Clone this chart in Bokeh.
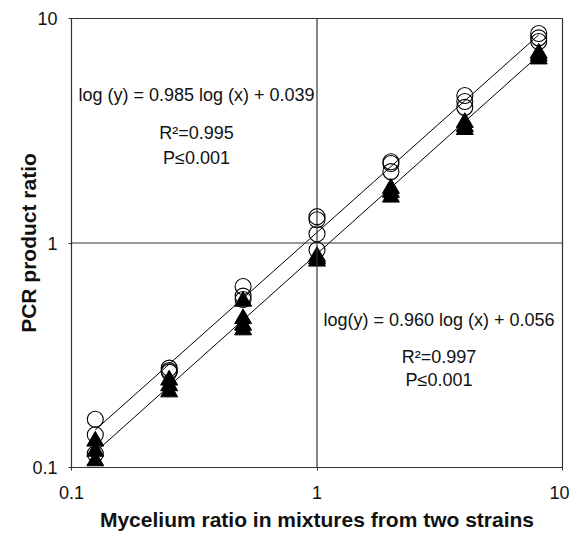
from bokeh.plotting import figure
from bokeh.models import Span, Label, FixedTicker, Range1d
from bokeh.embed import file_html
from bokeh.resources import INLINE

# ---- data ----
circle_x = [0.125, 0.125, 0.125, 0.25, 0.25, 0.25, 0.5, 0.5, 0.5,
            1, 1, 1, 1, 2, 2, 2, 4, 4, 4, 8, 8, 8]
circle_y = [0.164, 0.140, 0.115, 0.277, 0.270, 0.266, 0.64, 0.58, 0.56,
            1.31, 1.27, 1.10, 0.93, 2.30, 2.26, 2.08, 4.54, 4.27, 4.02, 8.57, 8.2, 7.9]
tri_x = [0.125, 0.125, 0.125, 0.25, 0.25, 0.25, 0.5, 0.5, 0.5, 0.5,
         1, 1, 1, 2, 2, 2, 4, 4, 4, 8, 8, 8]
tri_y = [0.131, 0.118, 0.107, 0.245, 0.231, 0.217, 0.55, 0.46, 0.43, 0.41,
         0.87, 0.85, 0.83, 1.75, 1.68, 1.60, 3.44, 3.30, 3.20, 7.0, 6.8, 6.6]
fit_x = [0.125, 8]
fit_upper_y = [0.147, 8.45]
fit_lower_y = [0.117, 6.85]

ticks = [0.1, 1, 10]
tick_labels = ["0.1", "1", "10"]

x_title = "Mycelium ratio in mixtures from two strains"
y_title = "PCR product ratio"
eq_upper = ["log (y) = 0.985 log (x) + 0.039", "R\u00b2=0.995", "P\u22640.001"]
eq_lower = ["log(y) = 0.960 log (x) + 0.056", "R\u00b2=0.997", "P\u22640.001"]

FONT = "Liberation Sans"

p = figure(frame_width=491, frame_height=449, x_axis_type="log", y_axis_type="log",
           x_range=Range1d(0.1, 10), y_range=Range1d(0.1, 10),
           output_backend="svg", toolbar_location=None,
           min_border_left=71, min_border_right=7, min_border_top=18, min_border_bottom=66)

p.grid.visible = False
p.outline_line_color = "#333333"
p.outline_line_width = 1.2

for ax in (p.xaxis[0], p.yaxis[0]):
    ax.ticker = FixedTicker(ticks=ticks, minor_ticks=[])
    ax.major_label_overrides = dict(zip(ticks, tick_labels))
    ax.major_tick_in = 0
    ax.major_tick_out = 3
    ax.minor_tick_in = 0
    ax.minor_tick_out = 0
    ax.axis_line_color = "#333333"
    ax.major_tick_line_color = "#333333"
    ax.major_label_text_font = FONT
    ax.major_label_text_font_size = "18px"
    ax.major_label_text_color = "#111111"
    ax.axis_label_text_font = FONT
    ax.axis_label_text_font_size = "21px"
    ax.axis_label_text_font_style = "bold"
    ax.axis_label_text_color = "#111111"

p.xaxis.axis_label = x_title
p.yaxis.axis_label = y_title
p.xaxis.major_label_standoff = 15
p.xaxis.axis_label_standoff = 6
p.yaxis.major_label_standoff = 11
p.yaxis.axis_label_standoff = -11

p.add_layout(Span(location=1, dimension="height", line_color="#333333", line_width=1.2))
p.add_layout(Span(location=1, dimension="width", line_color="#333333", line_width=1.2))

p.line(fit_x, fit_upper_y, line_color="black", line_width=1)
p.line(fit_x, fit_lower_y, line_color="black", line_width=1)

p.scatter(tri_x, tri_y, marker="triangle", size=17, fill_color="black", line_color="black")
p.scatter(circle_x, circle_y, marker="circle", size=16, fill_color=None, line_color="black", line_width=1.1)

up_y = [4.56, 3.09, 2.39]
lo_y = [0.454, 0.31, 0.245]
for t, yy in zip(eq_upper, up_y):
    p.add_layout(Label(x=0.323, y=yy, text=t, text_align="center", text_baseline="middle",
                       text_font=FONT, text_font_size="18px", text_color="#111111"))
for t, yy in zip(eq_lower, lo_y):
    p.add_layout(Label(x=3.14, y=yy, text=t, text_align="center", text_baseline="middle",
                       text_font=FONT, text_font_size="18px", text_color="#111111"))

open("out.html", "w").write(file_html(p, INLINE))
